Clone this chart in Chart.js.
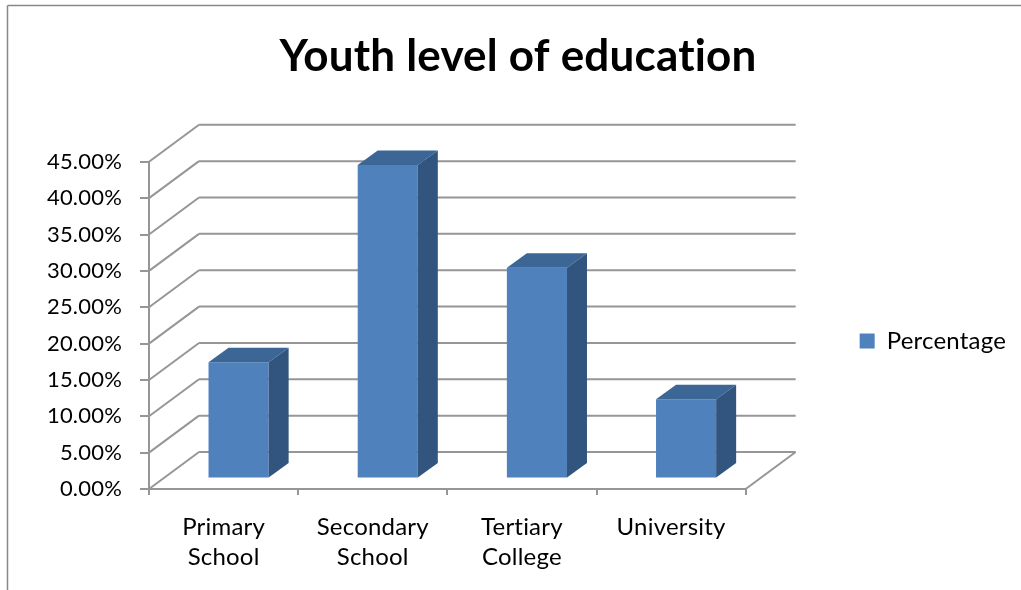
<!DOCTYPE html>
<html>
<head>
<meta charset="utf-8">
<title>Youth level of education</title>
<script src="https://cdn.jsdelivr.net/npm/chart.js@4.4.0/dist/chart.umd.min.js"></script>
<style>
  html, body { margin: 0; padding: 0; background: #fff; }
  #wrap { width: 1021px; height: 590px; }
</style>
</head>
<body>
<div id="wrap"><canvas id="education" width="1021" height="590"></canvas></div>
<script>
/* globals Chart: false */

// data (percent of youth)
var categories = [["Primary", "School"], ["Secondary", "School"], ["Tertiary", "College"], ["University"]];
var percentages = [16.0, 43.1, 29.0, 10.9];
var seriesName = "Percentage";
var yMax = 45;
var yStep = 5;

var FONT = "Lato";
var GRID = "#969696";
var FRONT = "#4F81BD";
var TOP = "#3C6695";
var SIDE = "#32557F";

var WALL = { dx: 50, dy: 37 };    // depth of floor and side wall
var BAR = { dx: 20, dy: 14.5 };   // depth of one column
var SHIFT = { dx: 15, dy: 10.5 }; // columns stand in the middle of the floor

// the plot must end at x = 746 with the legend square at x = 860,
// and the title centred at x = 518
var legendSize = 24;
var legendPad = 114;
var mctx = document.createElement("canvas").getContext("2d");
mctx.font = legendSize + "px " + FONT;
var legendWidth = legendPad + 15 + legendSize / 2 + mctx.measureText(seriesName).width + 10;
var padRight = Math.max(0, Math.round(275 - legendWidth));
var padLeft = 15 + padRight;

function line(ctx, x1, y1, x2, y2) {
    ctx.moveTo(x1, y1);
    ctx.lineTo(x2, y2);
}

var threeD = {
    id: "threeD",
    beforeDraw: function(chart) {
        var ctx = chart.ctx;
        var area = chart.chartArea;
        var y = chart.scales.y;

        // no "ti" ligatures, like the original
        ctx.letterSpacing = "0.2px";

        // outer frame
        ctx.save();
        ctx.strokeStyle = "#888888";
        ctx.lineWidth = 1.5;
        ctx.beginPath();
        line(ctx, 7.5, 5.5, 1021, 5.5);
        line(ctx, 7.5, 5.5, 7.5, 590);
        ctx.stroke();

        // back wall grid, side wall diagonals, floor edge
        ctx.strokeStyle = GRID;
        ctx.lineWidth = 2;
        ctx.beginPath();
        y.ticks.forEach(function(t) {
            var py = y.getPixelForValue(t.value);
            line(ctx, area.left, py, area.left + WALL.dx, py - WALL.dy);
            line(ctx, area.left + WALL.dx, py - WALL.dy, area.right + WALL.dx, py - WALL.dy);
        });
        line(ctx, area.right, area.bottom, area.right + WALL.dx, area.bottom - WALL.dy);
        ctx.stroke();
        ctx.restore();
    },
    beforeDatasetsDraw: function(chart) {
        chart.ctx.save();
        chart.ctx.translate(SHIFT.dx, -SHIFT.dy);
    },
    afterDatasetsDraw: function(chart) {
        var ctx = chart.ctx;
        chart.getDatasetMeta(0).data.forEach(function(bar) {
            var p = bar.getProps(["x", "y", "base", "width"], true);
            var l = p.x - p.width / 2;
            var r = p.x + p.width / 2;

            ctx.fillStyle = TOP;
            ctx.beginPath();
            ctx.moveTo(l, p.y);
            ctx.lineTo(r, p.y);
            ctx.lineTo(r + BAR.dx, p.y - BAR.dy);
            ctx.lineTo(l + BAR.dx, p.y - BAR.dy);
            ctx.closePath();
            ctx.fill();

            ctx.fillStyle = SIDE;
            ctx.beginPath();
            ctx.moveTo(r, p.y);
            ctx.lineTo(r + BAR.dx, p.y - BAR.dy);
            ctx.lineTo(r + BAR.dx, p.base - BAR.dy);
            ctx.lineTo(r, p.base);
            ctx.closePath();
            ctx.fill();
        });
        ctx.restore();
    }
};

var config = {
    type: "bar",
    data: {
        labels: categories,
        datasets: [
            {
                label: seriesName,
                data: percentages,
                backgroundColor: FRONT,
                borderWidth: 0,
                categoryPercentage: 1,
                barPercentage: 0.403
            }
        ]
    },
    options: {
        responsive: false,
        animation: false,
        devicePixelRatio: 1,
        layout: { padding: { left: padLeft, top: 0, right: padRight, bottom: 0 } },
        plugins: {
            title: {
                display: true,
                text: "Youth level of education",
                color: "#000",
                font: { family: FONT, size: 44, weight: "bold" },
                padding: { top: 30, bottom: 79 }
            },
            legend: {
                position: "right",
                fullSize: false,
                align: "center",
                maxWidth: 400,
                title: { display: true, text: "", font: { size: 1 }, padding: { top: 30, bottom: 0 } },
                labels: {
                    boxWidth: 15,
                    boxHeight: 15,
                    padding: legendPad,
                    color: "#000",
                    font: { family: FONT, size: legendSize }
                }
            },
            tooltip: { enabled: false }
        },
        scales: {
            x: {
                grid: { drawOnChartArea: false, tickLength: 6, color: GRID, lineWidth: 2 },
                border: { color: GRID, width: 2 },
                ticks: {
                    color: "#000",
                    padding: 17,
                    maxRotation: 0,
                    autoSkip: false,
                    font: { family: FONT, size: 24, lineHeight: "30px" }
                },
                afterFit: function(scale) { scale.height = 101; }
            },
            y: {
                min: 0,
                max: yMax,
                grid: { drawOnChartArea: false, tickLength: 9, color: GRID, lineWidth: 2 },
                border: { color: GRID, width: 2 },
                ticks: {
                    stepSize: yStep,
                    color: "#000",
                    padding: 18,
                    font: { family: FONT, size: 22 },
                    callback: function(v) { return v.toFixed(2) + "%"; }
                },
                afterFit: function(scale) { scale.width = 149 - padLeft; }
            }
        }
    },
    plugins: [threeD]
};

var ctx = document.getElementById("education").getContext("2d");
var eduChart = new Chart(ctx, config);
</script>
</body>
</html>
